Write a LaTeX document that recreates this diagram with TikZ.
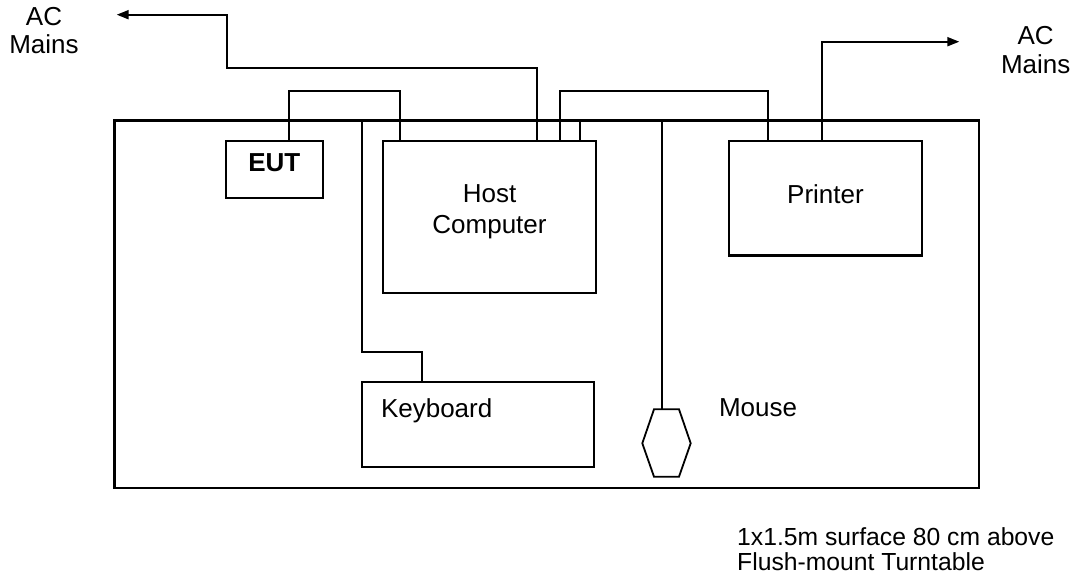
\documentclass[tikz,border=0pt]{standalone}
\usepackage{fontspec}
\setmainfont{Liberation Sans}
\usetikzlibrary{arrows.meta}
\begin{document}
\begin{tikzpicture}[x=1pt,y=-1pt,
  box/.style={draw, line width=2.3pt, inner sep=0pt, outer sep=0pt, anchor=north west},
  cable/.style={line width=2pt, line join=miter},
  lbl/.style={inner sep=0pt, font=\fontsize{26}{31}\selectfont},
  mains/.style={cable, -{Triangle[length=12pt,width=9pt]}}
]
\useasboundingbox (0,0) rectangle (1079,580);
% table surface
\node[box, line width=2.7pt, minimum width=864.5pt, minimum height=367.3pt] (table) at (114.5,120.7) {};
% equipment boxes
\node[box, minimum width=96.7pt, minimum height=57.3pt] (eut) at (226,140.7) {};
\node[box, minimum width=212.4pt, minimum height=152.6pt] (host) at (383.3,140.7) {};
\node[box, minimum width=193pt, minimum height=114.8pt] (printer) at (729,140.7) {};
\node[box, line width=2pt, minimum width=232.3pt, minimum height=85.6pt] (kbd) at (361.7,381.7) {};
% mouse
\draw[line width=1.8pt] (654,409.3) -- (679,409.3) -- (690.7,443.3) -- (679,476.7) -- (654,476.7) -- (642.3,443.3) -- cycle;
\coordinate (mouse) at (661.7,409.3);
% texts
\node[lbl, font=\fontsize{26}{31}\selectfont\bfseries, anchor=base] (teut) at (274.3,171.7) {EUT};
\node[lbl, anchor=north, align=center] (thost) at (489.5,184.3) {Host\\Computer};
\node[lbl, anchor=base] (tprinter) at (825.5,203.3) {Printer};
\node[lbl, anchor=base west] (tkbd) at (380.8,417.3) {Keyboard};
\node[lbl, anchor=base west] (tmouse) at (718.8,416.3) {Mouse};
\node[lbl, font=\fontsize{26}{28.3}\selectfont, anchor=north, align=center] (acl) at (44,7.3) {AC\\Mains};
\node[lbl, font=\fontsize{26}{28.3}\selectfont, anchor=north, align=center] (acr) at (1035.7,26.4) {AC\\Mains};
\node[lbl, font=\fontsize{24.7}{25.3}\selectfont, anchor=north west, align=left] (note) at (737,527.3) {1x1.5m surface 80 cm above\\Flush-mount Turntable};
% arrow ends
\coordinate (acLtip) at (116.7,14.7);
\coordinate (acRtip) at (959.3,41.7);
% cables
\draw[cable] (289.3,0 |- eut.north) -- (289.3,90.7) -- (400,90.7) -- (400,0 |- host.north);
\draw[mains] (537.3,0 |- host.north) -- (537.3,68) -- (226.7,68) -- (226.7,14.7) -- (acLtip);
\draw[cable] (560,0 |- host.north) -- (560,91) -- (767.7,91) -- (767.7,0 |- printer.north);
\draw[cable] (580,0 |- host.north) -- (580,0 |- table.north) -- (661.7,0 |- table.north) -- (mouse);
\draw[cable] (361.7,0 |- table.north) -- (361.7,352.3) -- (422.3,352.3) -- (422.3,0 |- kbd.north);
\draw[mains] (821.7,0 |- printer.north) -- (821.7,41.7) -- (acRtip);
\end{tikzpicture}
\end{document}
